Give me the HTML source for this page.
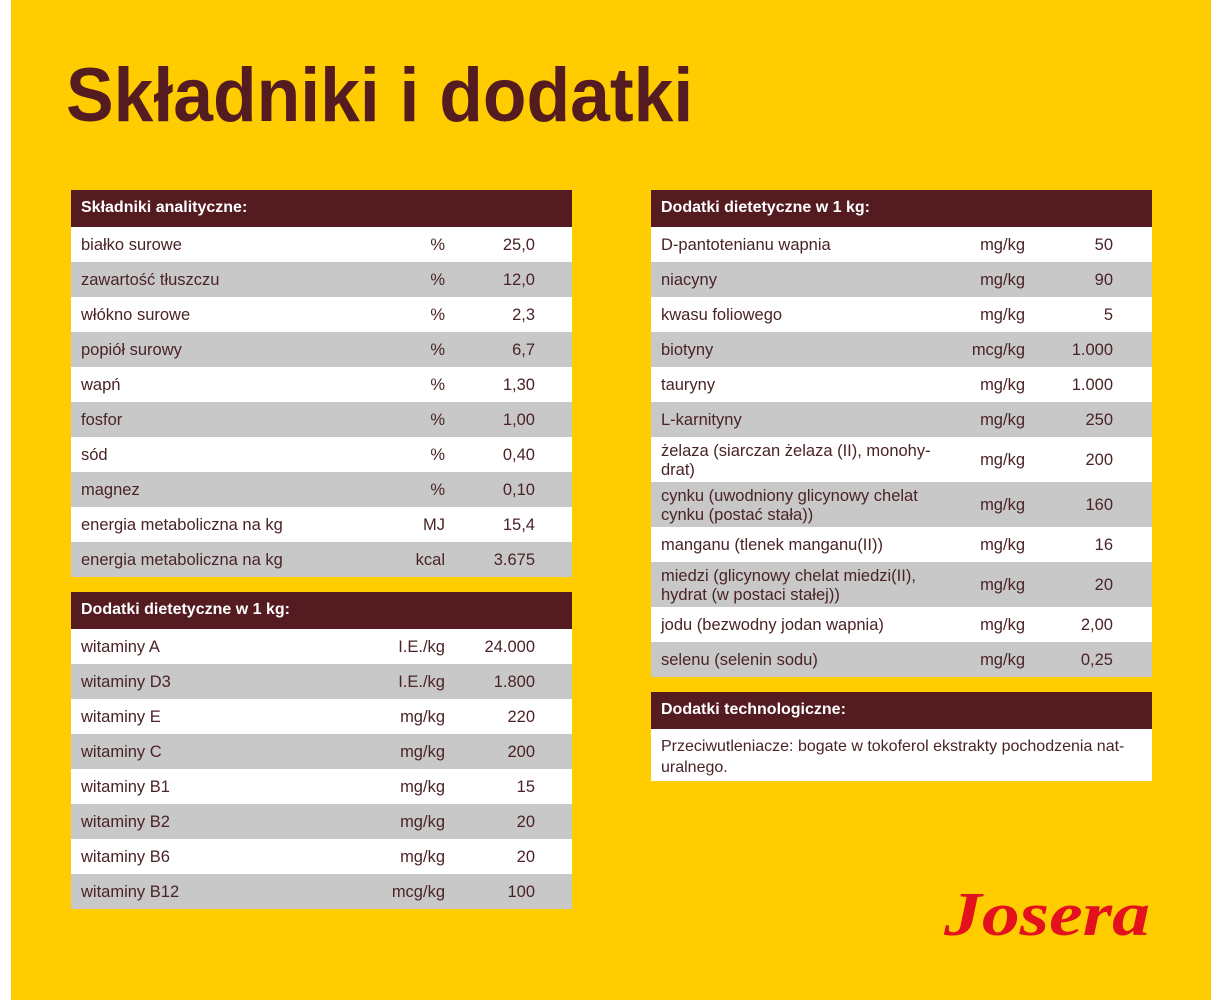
<!DOCTYPE html>
<html><head><meta charset="utf-8"><style>
body{margin:0;width:1223px;height:1000px;background:#fff;position:relative;overflow:hidden;font-family:"Liberation Sans",sans-serif;}
#bg{position:absolute;left:11px;top:0;width:1200px;height:1000px;background:#ffcc00;}
.t{position:absolute;left:66px;top:52px;font-size:76px;font-weight:bold;color:#541c20;letter-spacing:0px;transform:scaleX(0.94);transform-origin:left top;white-space:nowrap;}
.tb{position:absolute;width:501px;}
.h{background:#541c20;color:#fff;font-weight:bold;font-size:16px;height:37px;line-height:36px;padding-left:10px;box-sizing:border-box;}
.r{position:relative;height:35px;font-size:16.5px;color:#4a2326;background:#fff;}
.r:nth-child(even){background:#c8c8c8;}
.r .n{position:absolute;left:10px;top:1px;line-height:35px;}
.r.d .n{line-height:19px;top:5px;}
.r .u{position:absolute;top:1px;right:127px;line-height:35px;}
.r .v{position:absolute;top:1px;right:37px;line-height:35px;}
.r.d{height:45px;}
.r.d .u,.r.d .v{line-height:45px;}
.R .u{right:127px}.R .v{right:39px}
.box{background:#fff;font-size:16px;color:#4a2326;padding:7px 10px;line-height:21px;height:52px;box-sizing:border-box;}
.logo{position:absolute;left:944px;top:880px;font-family:"Liberation Serif",serif;font-style:italic;font-weight:bold;font-size:62px;color:#e3101e;letter-spacing:0px;transform:scaleX(1.22);transform-origin:left top;}
</style></head><body>
<div id="bg"></div>
<div class="t">Składniki i dodatki</div>

<div class="tb" style="left:71px;top:190px">
<div class="h">Składniki analityczne:</div>
<div>
<div class="r"><span class="n">białko surowe</span><span class="u">%</span><span class="v">25,0</span></div>
<div class="r"><span class="n">zawartość tłuszczu</span><span class="u">%</span><span class="v">12,0</span></div>
<div class="r"><span class="n">włókno surowe</span><span class="u">%</span><span class="v">2,3</span></div>
<div class="r"><span class="n">popiół surowy</span><span class="u">%</span><span class="v">6,7</span></div>
<div class="r"><span class="n">wapń</span><span class="u">%</span><span class="v">1,30</span></div>
<div class="r"><span class="n">fosfor</span><span class="u">%</span><span class="v">1,00</span></div>
<div class="r"><span class="n">sód</span><span class="u">%</span><span class="v">0,40</span></div>
<div class="r"><span class="n">magnez</span><span class="u">%</span><span class="v">0,10</span></div>
<div class="r"><span class="n">energia metaboliczna na kg</span><span class="u">MJ</span><span class="v">15,4</span></div>
<div class="r"><span class="n">energia metaboliczna na kg</span><span class="u">kcal</span><span class="v">3.675</span></div>
</div></div>

<div class="tb" style="left:71px;top:592px">
<div class="h">Dodatki dietetyczne w 1 kg:</div>
<div>
<div class="r"><span class="n">witaminy A</span><span class="u">I.E./kg</span><span class="v">24.000</span></div>
<div class="r"><span class="n">witaminy D3</span><span class="u">I.E./kg</span><span class="v">1.800</span></div>
<div class="r"><span class="n">witaminy E</span><span class="u">mg/kg</span><span class="v">220</span></div>
<div class="r"><span class="n">witaminy C</span><span class="u">mg/kg</span><span class="v">200</span></div>
<div class="r"><span class="n">witaminy B1</span><span class="u">mg/kg</span><span class="v">15</span></div>
<div class="r"><span class="n">witaminy B2</span><span class="u">mg/kg</span><span class="v">20</span></div>
<div class="r"><span class="n">witaminy B6</span><span class="u">mg/kg</span><span class="v">20</span></div>
<div class="r"><span class="n">witaminy B12</span><span class="u">mcg/kg</span><span class="v">100</span></div>
</div></div>

<div class="tb R" style="left:651px;top:190px">
<div class="h">Dodatki dietetyczne w 1 kg:</div>
<div>
<div class="r"><span class="n">D-pantotenianu wapnia</span><span class="u">mg/kg</span><span class="v">50</span></div>
<div class="r"><span class="n">niacyny</span><span class="u">mg/kg</span><span class="v">90</span></div>
<div class="r"><span class="n">kwasu foliowego</span><span class="u">mg/kg</span><span class="v">5</span></div>
<div class="r"><span class="n">biotyny</span><span class="u">mcg/kg</span><span class="v">1.000</span></div>
<div class="r"><span class="n">tauryny</span><span class="u">mg/kg</span><span class="v">1.000</span></div>
<div class="r"><span class="n">L-karnityny</span><span class="u">mg/kg</span><span class="v">250</span></div>
<div class="r d"><span class="n">żelaza (siarczan żelaza (II), monohy-<br>drat)</span><span class="u">mg/kg</span><span class="v">200</span></div>
<div class="r d"><span class="n">cynku (uwodniony glicynowy chelat<br>cynku (postać stała))</span><span class="u">mg/kg</span><span class="v">160</span></div>
<div class="r"><span class="n">manganu (tlenek manganu(II))</span><span class="u">mg/kg</span><span class="v">16</span></div>
<div class="r d"><span class="n">miedzi (glicynowy chelat miedzi(II),<br>hydrat (w postaci stałej))</span><span class="u">mg/kg</span><span class="v">20</span></div>
<div class="r"><span class="n">jodu (bezwodny jodan wapnia)</span><span class="u">mg/kg</span><span class="v">2,00</span></div>
<div class="r"><span class="n">selenu (selenin sodu)</span><span class="u">mg/kg</span><span class="v">0,25</span></div>
</div></div>

<div class="tb" style="left:651px;top:692px">
<div class="h">Dodatki technologiczne:</div>
<div class="box">Przeciwutleniacze: bogate w tokoferol ekstrakty pochodzenia nat-<br>uralnego.</div>
</div>

<div class="logo">Josera</div>
</body></html>
